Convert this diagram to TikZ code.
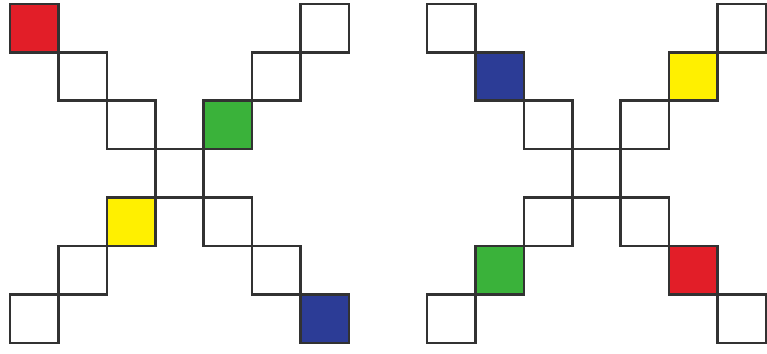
\documentclass[tikz,border=0pt]{standalone}
\definecolor{edge}{RGB}{50,50,50}
\definecolor{cred}{RGB}{226,30,40}
\definecolor{cgreen}{RGB}{58,178,58}
\definecolor{cyellow}{RGB}{255,240,0}
\definecolor{cblue}{RGB}{44,60,150}
\tikzset{
  cell/.style={draw=edge, line width=2.6pt, minimum size=48.4pt, inner sep=0pt, outer sep=0pt, rectangle},
  redcell/.style={cell, fill=cred},
  greencell/.style={cell, fill=cgreen},
  yellowcell/.style={cell, fill=cyellow},
  bluecell/.style={cell, fill=cblue}
}
\begin{document}
\begin{tikzpicture}
\useasboundingbox (0pt,0pt) rectangle (767pt,353pt);
% left X
\begin{scope}[shift={(10pt,349pt)}, x=48.4pt, y=-48.4pt]
  \node[cell]       (L33) at (3.5,3.5) {};
  \node[redcell]    (L00) at (0.5,0.5) {};
  \node[cell]       (L11) at (1.5,1.5) {};
  \node[cell]       (L22) at (2.5,2.5) {};
  \node[cell]       (L60) at (6.5,0.5) {};
  \node[cell]       (L51) at (5.5,1.5) {};
  \node[greencell]  (L42) at (4.5,2.5) {};
  \node[yellowcell] (L24) at (2.5,4.5) {};
  \node[cell]       (L15) at (1.5,5.5) {};
  \node[cell]       (L06) at (0.5,6.5) {};
  \node[cell]       (L44) at (4.5,4.5) {};
  \node[cell]       (L55) at (5.5,5.5) {};
  \node[bluecell]   (L66) at (6.5,6.5) {};
\end{scope}
% right X
\begin{scope}[shift={(427pt,349pt)}, x=48.4pt, y=-48.4pt]
  \node[cell]       (R33) at (3.5,3.5) {};
  \node[cell]       (R00) at (0.5,0.5) {};
  \node[bluecell]   (R11) at (1.5,1.5) {};
  \node[cell]       (R22) at (2.5,2.5) {};
  \node[cell]       (R60) at (6.5,0.5) {};
  \node[yellowcell] (R51) at (5.5,1.5) {};
  \node[cell]       (R42) at (4.5,2.5) {};
  \node[cell]       (R24) at (2.5,4.5) {};
  \node[greencell]  (R15) at (1.5,5.5) {};
  \node[cell]       (R06) at (0.5,6.5) {};
  \node[cell]       (R44) at (4.5,4.5) {};
  \node[redcell]    (R55) at (5.5,5.5) {};
  \node[cell]       (R66) at (6.5,6.5) {};
\end{scope}
\end{tikzpicture}
\end{document}
